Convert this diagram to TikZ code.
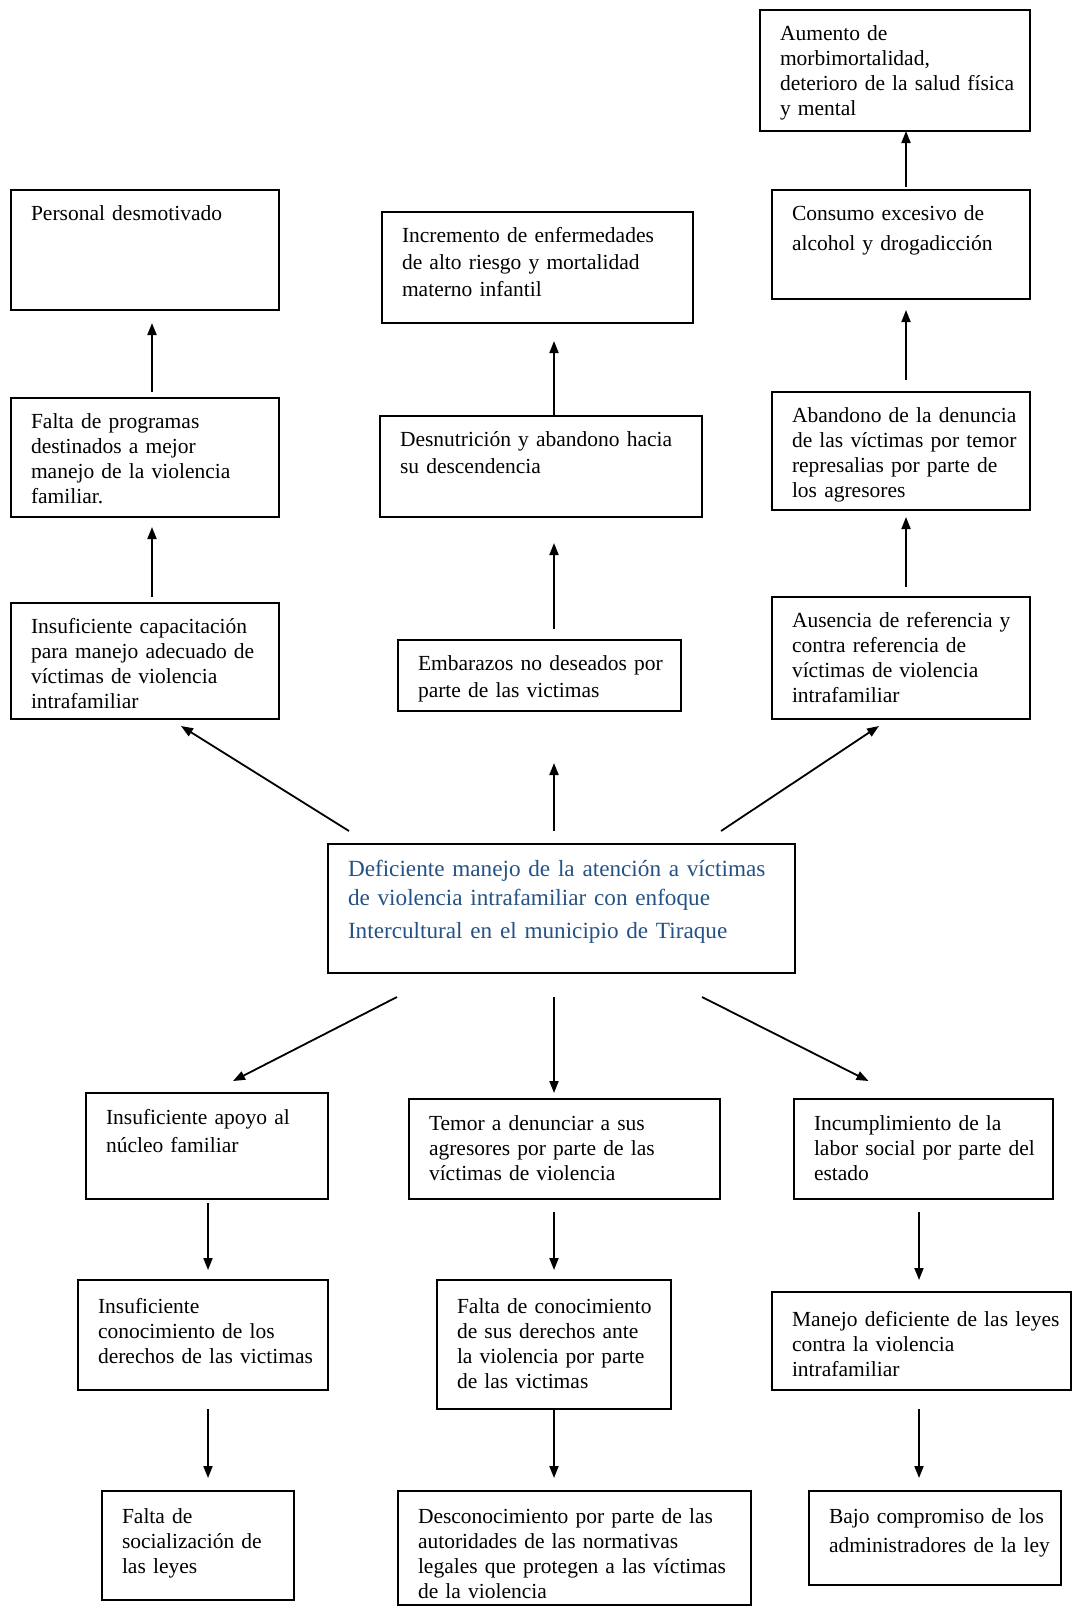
\documentclass[tikz,border=0pt]{standalone}
\usepackage{fontspec}
\setmainfont{Liberation Serif}
\usepackage{xcolor}
\usepackage{tikz}
\usetikzlibrary{arrows.meta}
\definecolor{probblue}{RGB}{36,82,132}

\begin{document}
\begin{tikzpicture}[x=1pt,y=-1pt,
  box/.style={draw,line width=1.8pt,anchor=north west,outer sep=0pt,align=left,
    inner xsep=20pt,inner ysep=12pt,text height=18pt,
    font=\fontsize{21.5}{25}\selectfont,
    execute at begin node={\rightskip=-25pt plus 1fil}},
  arrow/.style={line width=1.8pt,-{Triangle[length=12pt,width=9pt]}}]
  \useasboundingbox (0,0) rectangle (1073,1606);

  % efectos
  \node[box,text width=230pt,text depth=79pt] (aumento) at (760,10) {Aumento de\\morbimortalidad,\\deterioro de la salud física\\y mental};
  \node[box,text width=228pt,text depth=78pt] (personal) at (11,190) {Personal desmotivado};
  \node[box,text width=271pt,text depth=69pt] (incremento) at (382,212) {Incremento de enfermedades\\[2pt]de alto riesgo y mortalidad\\[2pt]materno infantil};
  \node[box,text width=218pt,text depth=67pt] (consumo) at (772,190) {Consumo excesivo de\\[5pt]alcohol y drogadicción};
  \node[box,text width=228pt,text depth=77pt] (programas) at (11,398) {Falta de programas\\destinados a mejor\\manejo de la violencia\\familiar.};
  \node[box,text width=282pt,text depth=59pt] (desnutricion) at (380,416) {Desnutrición y abandono hacia\\[2pt]su descendencia};
  \node[box,text width=218pt,text depth=76pt] (abandono) at (772,392) {Abandono de la denuncia\\de las víctimas por temor\\represalias por parte de\\los agresores};
  \node[box,text width=228pt,text depth=74pt] (capacitacion) at (11,603) {Insuficiente capacitación\\para manejo adecuado de\\víctimas de violencia\\intrafamiliar};
  \node[box,text width=243pt,text depth=29pt] (embarazos) at (398,640) {Embarazos no deseados por\\[2pt]parte de las victimas};
  \node[box,text width=218pt,text depth=80pt] (ausencia) at (772,597) {Ausencia de referencia y\\contra referencia de\\víctimas de violencia\\intrafamiliar};

  % problema central
  \node[box,text width=427pt,text height=20pt,text depth=85pt,text=probblue,
    font=\fontsize{23.2}{29}\selectfont] (problema) at (328,844)
    {Deficiente manejo de la atención a víctimas\\de violencia intrafamiliar con enfoque\\[4pt]Intercultural en el municipio de Tiraque};

  % causas
  \node[box,text width=202pt,text height=19pt,text depth=63pt] (apoyo) at (86,1093) {Insuficiente apoyo al\\[3pt]núcleo familiar};
  \node[box,text width=271pt,text height=19pt,text depth=57pt] (temor) at (409,1099) {Temor a denunciar a sus\\agresores por parte de las\\víctimas de violencia};
  \node[box,text width=219pt,text height=19pt,text depth=57pt] (incumplimiento) at (794,1099) {Incumplimiento de la\\labor social por parte del\\estado};
  \node[box,text width=210pt,text height=21pt,text depth=65pt] (conocimiento) at (78,1280) {Insuficiente\\conocimiento de los\\derechos de las victimas};
  \node[box,text width=194pt,text height=21pt,text depth=84pt] (derechos) at (437,1280) {Falta de conocimiento\\de sus derechos ante\\la violencia por parte\\de las victimas};
  \node[box,text width=259pt,text height=22pt,text depth=52pt] (leyes) at (772,1292) {Manejo deficiente de las leyes\\contra la violencia\\intrafamiliar};
  \node[box,text width=152pt,text height=20pt,text depth=65pt] (socializacion) at (102,1491) {Falta de\\socialización de\\las leyes};
  \node[box,text width=313pt,text height=20pt,text depth=70pt] (desconocimiento) at (398,1491) {Desconocimiento por parte de las\\autoridades de las normativas\\legales que protegen a las víctimas\\de la violencia};
  \node[box,text width=212pt,text height=20pt,text depth=50pt] (compromiso) at (809,1491) {Bajo compromiso de los\\[4pt]administradores de la ley};

  % columnas de flechas
  \coordinate (colL) at (152,0);
  \coordinate (colM) at (554,0);
  \coordinate (colR) at (906,0);
  \coordinate (colLL) at (208,0);
  \coordinate (colRR) at (919,0);

  \draw[arrow,shorten <=6pt,shorten >=13pt] (programas.north -| colL) -- (personal.south -| colL);
  \draw[arrow,shorten <=6pt,shorten >=10pt] (capacitacion.north -| colL) -- (programas.south -| colL);
  \draw[arrow,shorten >=18pt] (desnutricion.north -| colM) -- (incremento.south -| colM);
  \draw[arrow,shorten <=11pt,shorten >=26pt] (embarazos.north -| colM) -- (desnutricion.south -| colM);
  \draw[arrow,shorten <=3pt] (consumo.north -| colR) -- (aumento.south -| colR);
  \draw[arrow,shorten <=12pt,shorten >=11pt] (abandono.north -| colR) -- (consumo.south -| colR);
  \draw[arrow,shorten <=10pt,shorten >=7pt] (ausencia.north -| colR) -- (abandono.south -| colR);

  \draw[arrow] ([xshift=21pt,yshift=13pt]problema.north west) -- ([xshift=36pt,yshift=-7pt]capacitacion.south);
  \draw[arrow,shorten <=13pt,shorten >=52pt] (problema.north -| colM) -- (embarazos.south -| colM);
  \draw[arrow] ([xshift=-74pt,yshift=13pt]problema.north east) -- ([xshift=-22pt,yshift=-7pt]ausencia.south);

  \draw[arrow] ([xshift=69pt,yshift=-24pt]problema.south west) -- ([xshift=26pt,yshift=12pt]apoyo.north);
  \draw[arrow,shorten <=24pt,shorten >=6pt] (problema.south -| colM) -- (temor.north -| colM);
  \draw[arrow] ([xshift=-93pt,yshift=-24pt]problema.south east) -- ([xshift=-55pt,yshift=18pt]incumplimiento.north);

  \draw[arrow,shorten <=4pt,shorten >=10pt] (apoyo.south -| colLL) -- (conocimiento.north -| colLL);
  \draw[arrow,shorten <=19pt,shorten >=13pt] (conocimiento.south -| colLL) -- (socializacion.north -| colLL);
  \draw[arrow,shorten <=13pt,shorten >=10pt] (temor.south -| colM) -- (derechos.north -| colM);
  \draw[arrow,shorten >=13pt] (derechos.south -| colM) -- (desconocimiento.north -| colM);
  \draw[arrow,shorten <=13pt,shorten >=12pt] (incumplimiento.south -| colRR) -- (leyes.north -| colRR);
  \draw[arrow,shorten <=19pt,shorten >=13pt] (leyes.south -| colRR) -- (compromiso.north -| colRR);
\end{tikzpicture}
\end{document}
